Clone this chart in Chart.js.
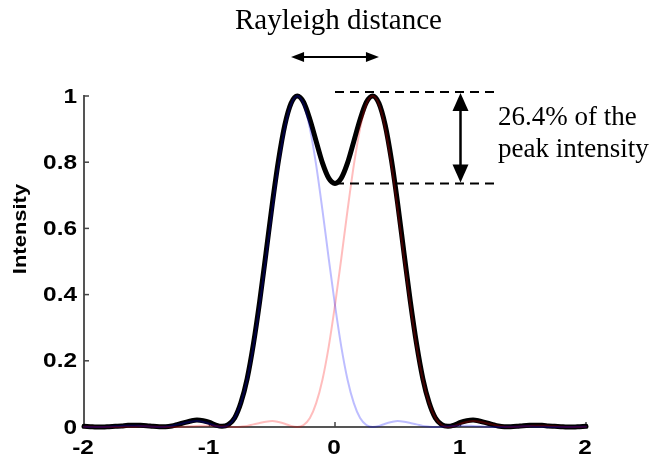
<!DOCTYPE html>
<html>
<head>
<meta charset="utf-8">
<script src="https://cdn.jsdelivr.net/npm/chart.js@4.4.1/dist/chart.umd.min.js"></script>
<style>
  html, body { margin: 0; padding: 0; background: #ffffff; }
  #wrap { width: 655px; height: 461px; position: relative; }
</style>
</head>
<body>
<div id="wrap"><canvas id="c" width="655" height="461"></canvas></div>
<script>
// Sample positions along the image plane
const positions = [
  -2.00, -1.95, -1.90, -1.85, -1.80, -1.75, -1.70, -1.65, -1.60, -1.55,
  -1.50, -1.45, -1.40, -1.35, -1.30, -1.25, -1.20, -1.15, -1.10, -1.05,
  -1.00, -0.95, -0.90, -0.85, -0.80, -0.75, -0.70, -0.65, -0.60, -0.55,
  -0.50, -0.45, -0.40, -0.35, -0.30, -0.25, -0.20, -0.15, -0.10, -0.05,
   0.00,  0.05,  0.10,  0.15,  0.20,  0.25,  0.30,  0.35,  0.40,  0.45,
   0.50,  0.55,  0.60,  0.65,  0.70,  0.75,  0.80,  0.85,  0.90,  0.95,
   1.00,  1.05,  1.10,  1.15,  1.20,  1.25,  1.30,  1.35,  1.40,  1.45,
   1.50,  1.55,  1.60,  1.65,  1.70,  1.75,  1.80,  1.85,  1.90,  1.95,
   2.00
];

// Intensity of the left point source
const leftSpot = [
  0.001, 0.000, 0.000, 0.000, 0.001, 0.002, 0.003, 0.004, 0.004, 0.003,
  0.002, 0.001, 0.000, 0.001, 0.003, 0.008, 0.012, 0.016, 0.018, 0.015,
  0.010, 0.003, 0.000, 0.006, 0.027, 0.072, 0.143, 0.243, 0.368, 0.509,
  0.655, 0.791, 0.902, 0.975, 1.000, 0.975, 0.902, 0.791, 0.655, 0.509,
  0.368, 0.243, 0.143, 0.072, 0.027, 0.006, 0.000, 0.003, 0.010, 0.015,
  0.018, 0.016, 0.012, 0.008, 0.003, 0.001, 0.000, 0.001, 0.002, 0.003,
  0.004, 0.004, 0.003, 0.002, 0.001, 0.000, 0.000, 0.000, 0.001, 0.001,
  0.002, 0.002, 0.001, 0.001, 0.000, 0.000, 0.000, 0.000, 0.000, 0.001,
  0.001
];

// Intensity of the right point source
const rightSpot = [
  0.001, 0.001, 0.000, 0.000, 0.000, 0.000, 0.000, 0.001, 0.001, 0.002,
  0.002, 0.001, 0.001, 0.000, 0.000, 0.000, 0.001, 0.002, 0.003, 0.004,
  0.004, 0.003, 0.002, 0.001, 0.000, 0.001, 0.003, 0.008, 0.012, 0.016,
  0.018, 0.015, 0.010, 0.003, 0.000, 0.006, 0.027, 0.072, 0.143, 0.243,
  0.368, 0.509, 0.655, 0.791, 0.902, 0.975, 1.000, 0.975, 0.902, 0.791,
  0.655, 0.509, 0.368, 0.243, 0.143, 0.072, 0.027, 0.006, 0.000, 0.003,
  0.010, 0.015, 0.018, 0.016, 0.012, 0.008, 0.003, 0.001, 0.000, 0.001,
  0.002, 0.003, 0.004, 0.004, 0.003, 0.002, 0.001, 0.000, 0.000, 0.000,
  0.001
];

// Combined intensity of both sources
const combined = [
  0.002, 0.001, 0.000, 0.000, 0.001, 0.002, 0.003, 0.005, 0.005, 0.005,
  0.004, 0.002, 0.001, 0.001, 0.003, 0.008, 0.013, 0.018, 0.021, 0.019,
  0.014, 0.006, 0.002, 0.007, 0.027, 0.073, 0.146, 0.251, 0.380, 0.525,
  0.673, 0.806, 0.912, 0.978, 1.000, 0.981, 0.929, 0.863, 0.798, 0.752,
  0.736, 0.752, 0.798, 0.863, 0.929, 0.981, 1.000, 0.978, 0.912, 0.806,
  0.673, 0.525, 0.380, 0.251, 0.146, 0.073, 0.027, 0.007, 0.002, 0.006,
  0.014, 0.019, 0.021, 0.018, 0.013, 0.008, 0.003, 0.001, 0.001, 0.002,
  0.004, 0.005, 0.005, 0.005, 0.003, 0.002, 0.001, 0.000, 0.000, 0.001,
  0.002
];

const xTickValues = [-2, -1, 0, 1, 2];
const xTickLabels = ['-2', '-1', '0', '1', '2'];
const yTickValues = [0, 0.2, 0.4, 0.6, 0.8, 1];
const yTickLabels = ['0', '0.2', '0.4', '0.6', '0.8', '1'];

const peakLeft = -0.3;
const peakRight = 0.3;
const peakValue = 1.0;
const dipDrop = 0.264;

const yAxisTitle = 'Intensity';
const separationText = 'Rayleigh distance';
const dropText = ['26.4% of the', 'peak intensity'];

const toPoints = ys => positions.map((x, i) => ({ x: x, y: ys[i] }));

const SANS = '"Liberation Sans", Arial, sans-serif';
const SERIF = '"Liberation Serif", "Times New Roman", serif';
const WIDE = 1.22; // horizontal stretch of the bold axis lettering

function arrowHead(ctx, tipX, tipY, angle, len, half) {
  ctx.save();
  ctx.translate(tipX, tipY);
  ctx.rotate(angle);
  ctx.beginPath();
  ctx.moveTo(0, 0);
  ctx.lineTo(-len, -half);
  ctx.lineTo(-len, half);
  ctx.closePath();
  ctx.fill();
  ctx.restore();
}

// Text drawn with a horizontal stretch factor; align is 'left' | 'center' | 'right'
function wideText(ctx, text, x, y, align, stretch) {
  const w = ctx.measureText(text).width * stretch;
  let left = x;
  if (align === 'center') left = x - w / 2;
  else if (align === 'right') left = x - w;
  ctx.save();
  ctx.translate(left, y);
  ctx.scale(stretch, 1);
  ctx.textAlign = 'left';
  ctx.fillText(text, 0, 0);
  ctx.restore();
}

// Inward tick marks and tick labels on both axes
const axisDecor = {
  id: 'axisDecor',
  beforeDatasetsDraw(chart) {
    const { ctx, scales: { x, y }, chartArea } = chart;
    ctx.save();
    ctx.strokeStyle = '#444444';
    ctx.lineWidth = 1.5;
    yTickValues.forEach(v => {
      if (v === 0) return;
      const py = y.getPixelForValue(v);
      ctx.beginPath();
      ctx.moveTo(chartArea.left, py);
      ctx.lineTo(chartArea.left + 5, py);
      ctx.stroke();
    });
    xTickValues.forEach(v => {
      if (v === -2) return;
      const px = x.getPixelForValue(v);
      ctx.beginPath();
      ctx.moveTo(px, chartArea.bottom);
      ctx.lineTo(px, chartArea.bottom - 5);
      ctx.stroke();
    });

    ctx.fillStyle = '#000000';
    ctx.font = 'bold 20px ' + SANS;
    ctx.textBaseline = 'middle';
    yTickValues.forEach((v, i) => {
      wideText(ctx, yTickLabels[i], chartArea.left - 7, y.getPixelForValue(v) + 1, 'right', WIDE);
    });
    xTickValues.forEach((v, i) => {
      wideText(ctx, xTickLabels[i], x.getPixelForValue(v) - 1, chartArea.bottom + 21, 'center', WIDE);
    });

    // y-axis title
    ctx.font = 'bold 18px ' + SANS;
    ctx.save();
    ctx.translate(21, 229);
    ctx.rotate(-Math.PI / 2);
    wideText(ctx, yAxisTitle, 0, 0, 'center', WIDE);
    ctx.restore();
    ctx.restore();
  }
};

// Separation and dip annotations
const annotations = {
  id: 'annotations',
  afterDatasetsDraw(chart) {
    const { ctx, scales: { x, y } } = chart;
    ctx.save();
    ctx.strokeStyle = '#000000';
    ctx.fillStyle = '#000000';

    // separation arrow
    const ax0 = x.getPixelForValue(peakLeft - 0.05);
    const ax1 = x.getPixelForValue(peakRight + 0.05);
    const ay = 57;
    ctx.lineWidth = 2;
    ctx.beginPath();
    ctx.moveTo(ax0 + 6, ay);
    ctx.lineTo(ax1 - 6, ay);
    ctx.stroke();
    arrowHead(ctx, ax0, ay, Math.PI, 13, 5);
    arrowHead(ctx, ax1, ay, 0, 13, 5);

    ctx.font = '29px ' + SERIF;
    ctx.textAlign = 'left';
    ctx.textBaseline = 'alphabetic';
    ctx.fillText(separationText, 235, 29);

    // dashed guides at the peak and the central dip
    const yPeak = y.getPixelForValue(peakValue) - 4;
    const yDip = y.getPixelForValue(peakValue - dipDrop);
    const gx0 = x.getPixelForValue(0);
    const gx1 = x.getPixelForValue(1.3);
    ctx.setLineDash([9, 6]);
    ctx.lineWidth = 2;
    ctx.beginPath();
    ctx.moveTo(gx0, yPeak);
    ctx.lineTo(gx1, yPeak);
    ctx.moveTo(gx0, yDip);
    ctx.lineTo(gx1, yDip);
    ctx.stroke();
    ctx.setLineDash([]);

    // vertical double arrow between the guides
    const vx = x.getPixelForValue(1.0);
    ctx.lineWidth = 2.5;
    ctx.beginPath();
    ctx.moveTo(vx, yPeak + 10);
    ctx.lineTo(vx, yDip - 10);
    ctx.stroke();
    arrowHead(ctx, vx, yPeak + 1, -Math.PI / 2, 18, 8);
    arrowHead(ctx, vx, yDip - 1, Math.PI / 2, 18, 8);

    ctx.font = '27px ' + SERIF;
    ctx.fillText(dropText[0], 498, 125);
    ctx.fillText(dropText[1], 498, 157);

    ctx.restore();
  }
};

new Chart(document.getElementById('c'), {
  type: 'line',
  data: {
    datasets: [
      {
        label: 'Combined',
        data: toPoints(combined),
        borderColor: '#000000',
        borderWidth: 5,
        order: 2
      },
      {
        label: 'Left source',
        data: toPoints(leftSpot),
        borderColor: 'rgba(0, 0, 255, 0.26)',
        borderWidth: 2,
        order: 1
      },
      {
        label: 'Right source',
        data: toPoints(rightSpot),
        borderColor: 'rgba(255, 0, 0, 0.26)',
        borderWidth: 2,
        order: 1
      }
    ]
  },
  options: {
    responsive: false,
    animation: false,
    devicePixelRatio: 1,
    layout: { padding: { left: 0, top: 96, right: 69, bottom: 0 } },
    elements: {
      point: { radius: 0 },
      line: { cubicInterpolationMode: 'monotone', fill: false, borderCapStyle: 'round', borderJoinStyle: 'round' }
    },
    datasets: { line: { clip: false } },
    plugins: { legend: { display: false }, tooltip: { enabled: false } },
    scales: {
      x: {
        type: 'linear',
        min: -2,
        max: 2,
        afterBuildTicks: s => { s.ticks = xTickValues.map(v => ({ value: v })); },
        afterFit: s => { s.height = 34; },
        grid: { display: false, drawTicks: false },
        border: { display: true, color: '#555555', width: 2 },
        ticks: { display: false }
      },
      y: {
        type: 'linear',
        min: 0,
        max: 1,
        afterBuildTicks: s => { s.ticks = yTickValues.map(v => ({ value: v })); },
        afterFit: s => { s.width = 84; },
        grid: { display: false, drawTicks: false },
        border: { display: true, color: '#555555', width: 2 },
        ticks: { display: false }
      }
    }
  },
  plugins: [axisDecor, annotations]
});
</script>
</body>
</html>
